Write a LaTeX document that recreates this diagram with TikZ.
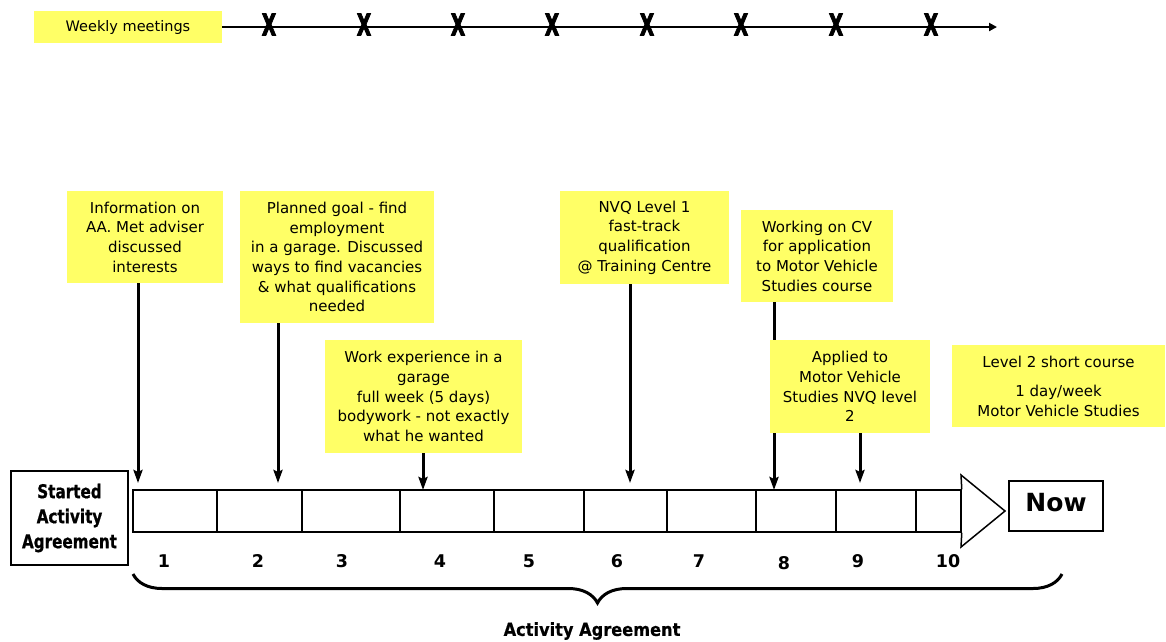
\documentclass[tikz,border=0pt]{standalone}
\usepackage{fontspec}
\setmainfont{DejaVu Sans}
\newfontfamily\xfont[FakeStretch=0.62,FakeBold=2.5]{DejaVu Sans Bold}
\newfontfamily\startfont[FakeStretch=0.8,FakeBold=0.8]{DejaVu Sans Bold}
\newfontfamily\aafont[FakeStretch=0.9,FakeBold=0.5]{DejaVu Sans Bold}
\usetikzlibrary{arrows.meta,decorations.pathreplacing,backgrounds}
\definecolor{sticky}{RGB}{255,255,102}
\begin{document}
\begin{tikzpicture}[x=1pt,y=-1pt,
  note/.style={fill=sticky,inner sep=0pt,align=center,font=\fontsize{15}{19.7}\selectfont},
  conn/.style={line width=3pt,-{Stealth[length=13pt,width=9pt,inset=2pt]}},
  topline/.style={line width=2.5pt,-{Triangle[length=8pt,width=8pt]}},
  xmark/.style={inner sep=0pt,font=\xfont\fontsize{30}{30}\selectfont},
  cell/.style={draw,line width=1.5pt,inner sep=0pt,minimum height=42pt},
  numlbl/.style={inner sep=0pt,font=\bfseries\fontsize{17.5}{17.5}\selectfont},
  plainbox/.style={draw,line width=1.5pt,inner sep=0pt,align=center},
  bracestyle/.style={line width=3pt,decorate,decoration={brace,mirror,amplitude=29pt}}]
\useasboundingbox (0,0) rectangle (1166,641);

% top: weekly meetings
\node[note,font=\fontsize{14.5}{19.7}\selectfont,minimum width=188pt,minimum height=32pt] (weekly) at (128,27) {Weekly meetings};
\coordinate (tend) at (997,27);
\draw[topline] (weekly.east) -- (tend);
\foreach \x [count=\i] in {269,364,458,552,647,741,836,931}
  \node[xmark] (x\i) at (\x,24.5) {X};

% timeline cells
\foreach \a/\b [count=\i] in {133/217,217/302,302/400,400/494,494/584,584/667,667/756,756/836,836/916,916/961}{
  \pgfmathsetmacro\w{\b-\a}
  \pgfmathsetmacro\m{(\a+\b)/2}
  \node[cell,minimum width=\w pt] (c\i) at (\m,511) {};
}
\draw[line width=1.5pt,line join=miter] (c10.north east) -- (961,475) -- (1005,511) -- (961,547) -- (c10.south east);

% numbers
\foreach \x/\y [count=\i] in {164/561,258/561,342/561,440/561,529/561,617/561,699/561,784/563,858/561,948/561}
  \node[numlbl] (n\i) at (\x,\y) {\i};

% start and now boxes
\node[plainbox,minimum width=117pt,minimum height=94pt,font=\startfont\fontsize{19}{25}\selectfont] (start) at (69.5,518) {Started\\Activity\\Agreement};
\node[plainbox,line width=2pt,minimum width=94pt,minimum height=50pt,text depth=8pt,font=\bfseries\fontsize{25}{25}\selectfont] (now) at (1056,506) {Now};

% sticky notes
\node[note,minimum width=156pt,minimum height=92pt] (info) at (145,237) {Information on\\AA. Met adviser\\discussed\\interests};
\node[note,minimum width=194pt,minimum height=132pt] (plan) at (337,257) {Planned goal - find\\employment\\in a garage. Discussed\\ways to find vacancies\\\& what qualifications\\needed};
\node[note,minimum width=197pt,minimum height=113pt] (work) at (423.5,396.5) {Work experience in a\\garage\\full week (5 days)\\bodywork - not exactly\\what he wanted};
\node[note,minimum width=169pt,minimum height=93pt] (nvq) at (644.5,237.5) {NVQ Level 1\\fast-track\\qualification\\@ Training Centre};
\node[note,minimum width=152pt,minimum height=92pt] (cv) at (817,256) {Working on CV\\for application\\to Motor Vehicle\\Studies course};
\node[note,minimum width=213pt,minimum height=82pt] (lvl) at (1058.5,386) {Level 2 short course\\[9.5pt]1 day/week\\Motor Vehicle Studies};

% arrow end points
\coordinate (a1) at (138,483);
\coordinate (a2) at (278,483);
\coordinate (a3) at (423,490);
\coordinate (a4) at (630,483);
\coordinate (a5) at (774,490);
\coordinate (a6) at (860,483);

\draw[conn] (info.south -| a1) -- (a1);
\draw[conn] (plan.south -| a2) -- (a2);
\draw[conn] (work.south -| a3) -- (a3);
\draw[conn] (nvq.south -| a4) -- (a4);
\draw[conn] (cv.south -| a5) -- (a5);

% applied box drawn over the CV line
\node[note,minimum width=160pt,minimum height=93pt] (appl) at (850,386.5) {Applied to\\Motor Vehicle\\Studies NVQ level\\2};
\draw[conn] (appl.south -| a6) -- (a6);

% brace
\coordinate (bl) at (133,574);
\coordinate (br) at (1062,574);
\draw[bracestyle] (bl) -- (br);
\node[inner sep=0pt,font=\aafont\fontsize{18}{18}\selectfont] (aa) at (592,631) {Activity Agreement};
\end{tikzpicture}
\end{document}
